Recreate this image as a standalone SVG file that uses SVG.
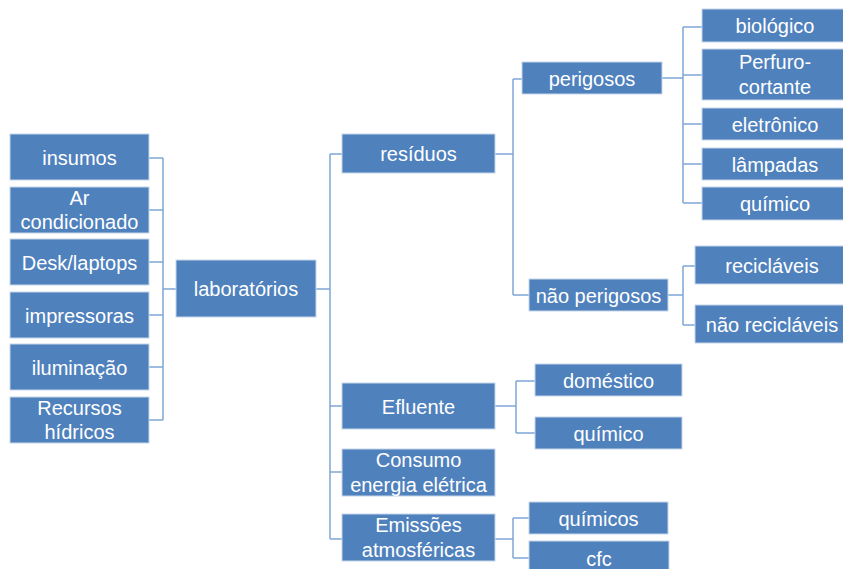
<svg xmlns="http://www.w3.org/2000/svg" width="843" height="569" viewBox="0 0 843 569">
<style>
.box{fill:#4f81bd;stroke:#c6d6ea;stroke-width:1}
.t{font-family:"Liberation Sans",Arial,sans-serif;font-size:20px;fill:#ffffff;text-anchor:middle}
.c{fill:none;stroke:#7fa6d6;stroke-width:1.5}
</style>
<rect width="843" height="569" fill="#ffffff"/>
<g id="connectors">
<path class="c" d="M149 158H163M149 210H163M149 262H163M149 315H163M149 367H163M149 420H163M163 158V420M163 289H176"/>
<path class="c" d="M316 289H330M330 154V539M330 154H342M330 406H342M330 472H342M330 539H342"/>
<path class="c" d="M495 154H513M513 79V295M513 79H522M513 295H529"/>
<path class="c" d="M662 78H683M683 27V203M683 27H702M683 75H702M683 124H702M683 164H702M683 203H702"/>
<path class="c" d="M668 295H683M683 266V325M683 266H695M683 325H695"/>
<path class="c" d="M495 406H516M516 381V433M516 381H535M516 433H535"/>
<path class="c" d="M495 539H513M513 518V558M513 518H529M513 558H529"/>
</g>
<g id="insumos"><rect class="box" x="10" y="134" width="139" height="46"/><text class="t" x="79.5" y="165">insumos</text></g>
<g id="ar-condicionado"><rect class="box" x="10" y="187" width="139" height="46"/><text class="t" x="79.5" y="205">Ar</text><text class="t" x="79.5" y="229">condicionado</text></g>
<g id="desk-laptops"><rect class="box" x="10" y="239" width="139" height="46"/><text class="t" x="79.5" y="269.5">Desk/laptops</text></g>
<g id="impressoras"><rect class="box" x="10" y="292" width="139" height="46"/><text class="t" x="79.5" y="322.5">impressoras</text></g>
<g id="iluminacao"><rect class="box" x="10" y="344" width="139" height="46"/><text class="t" x="79.5" y="374.5">iluminação</text></g>
<g id="recursos-hidricos"><rect class="box" x="10" y="397" width="139" height="46"/><text class="t" x="79.5" y="415">Recursos</text><text class="t" x="79.5" y="439">hídricos</text></g>
<g id="laboratorios"><rect class="box" x="176" y="260" width="140" height="57"/><text class="t" x="246" y="296">laboratórios</text></g>
<g id="residuos"><rect class="box" x="342" y="134" width="153" height="39"/><text class="t" x="418.5" y="161">resíduos</text></g>
<g id="efluente"><rect class="box" x="342" y="383" width="153" height="46"/><text class="t" x="418.5" y="413.5">Efluente</text></g>
<g id="consumo"><rect class="box" x="342" y="449" width="153" height="47"/><text class="t" x="418.5" y="467">Consumo</text><text class="t" x="418.5" y="492">energia elétrica</text></g>
<g id="emissoes"><rect class="box" x="342" y="514" width="153" height="47"/><text class="t" x="418.5" y="532">Emissões</text><text class="t" x="418.5" y="557">atmosféricas</text></g>
<g id="perigosos"><rect class="box" x="522" y="62" width="140" height="32"/><text class="t" x="592" y="85.5">perigosos</text></g>
<g id="nao-perigosos"><rect class="box" x="529" y="279" width="139" height="32"/><text class="t" x="598.5" y="302.5">não perigosos</text></g>
<g id="biologico"><rect class="box" x="702" y="9" width="146" height="33"/><text class="t" x="775" y="33">biológico</text></g>
<g id="perfuro-cortante"><rect class="box" x="702" y="49" width="146" height="51"/><text class="t" x="775" y="69">Perfuro-</text><text class="t" x="775" y="94">cortante</text></g>
<g id="eletronico"><rect class="box" x="702" y="108" width="146" height="32"/><text class="t" x="775" y="131.5">eletrônico</text></g>
<g id="lampadas"><rect class="box" x="702" y="148" width="146" height="32"/><text class="t" x="775" y="171.5">lâmpadas</text></g>
<g id="quimico-residuo"><rect class="box" x="702" y="187" width="146" height="33"/><text class="t" x="775" y="211">químico</text></g>
<g id="reciclaveis"><rect class="box" x="695" y="246" width="154" height="38"/><text class="t" x="772" y="272.5">recicláveis</text></g>
<g id="nao-reciclaveis"><rect class="box" x="695" y="305" width="154" height="38"/><text class="t" x="772" y="331.5">não recicláveis</text></g>
<g id="domestico"><rect class="box" x="535" y="364" width="147" height="32"/><text class="t" x="608.5" y="387.5">doméstico</text></g>
<g id="quimico-efluente"><rect class="box" x="535" y="417" width="147" height="32"/><text class="t" x="608.5" y="440.5">químico</text></g>
<g id="quimicos"><rect class="box" x="529" y="502" width="139" height="32"/><text class="t" x="598.5" y="525.5">químicos</text></g>
<g id="cfc"><rect class="box" x="529" y="541" width="140" height="34"/><text class="t" x="599" y="566">cfc</text></g>
</svg>
